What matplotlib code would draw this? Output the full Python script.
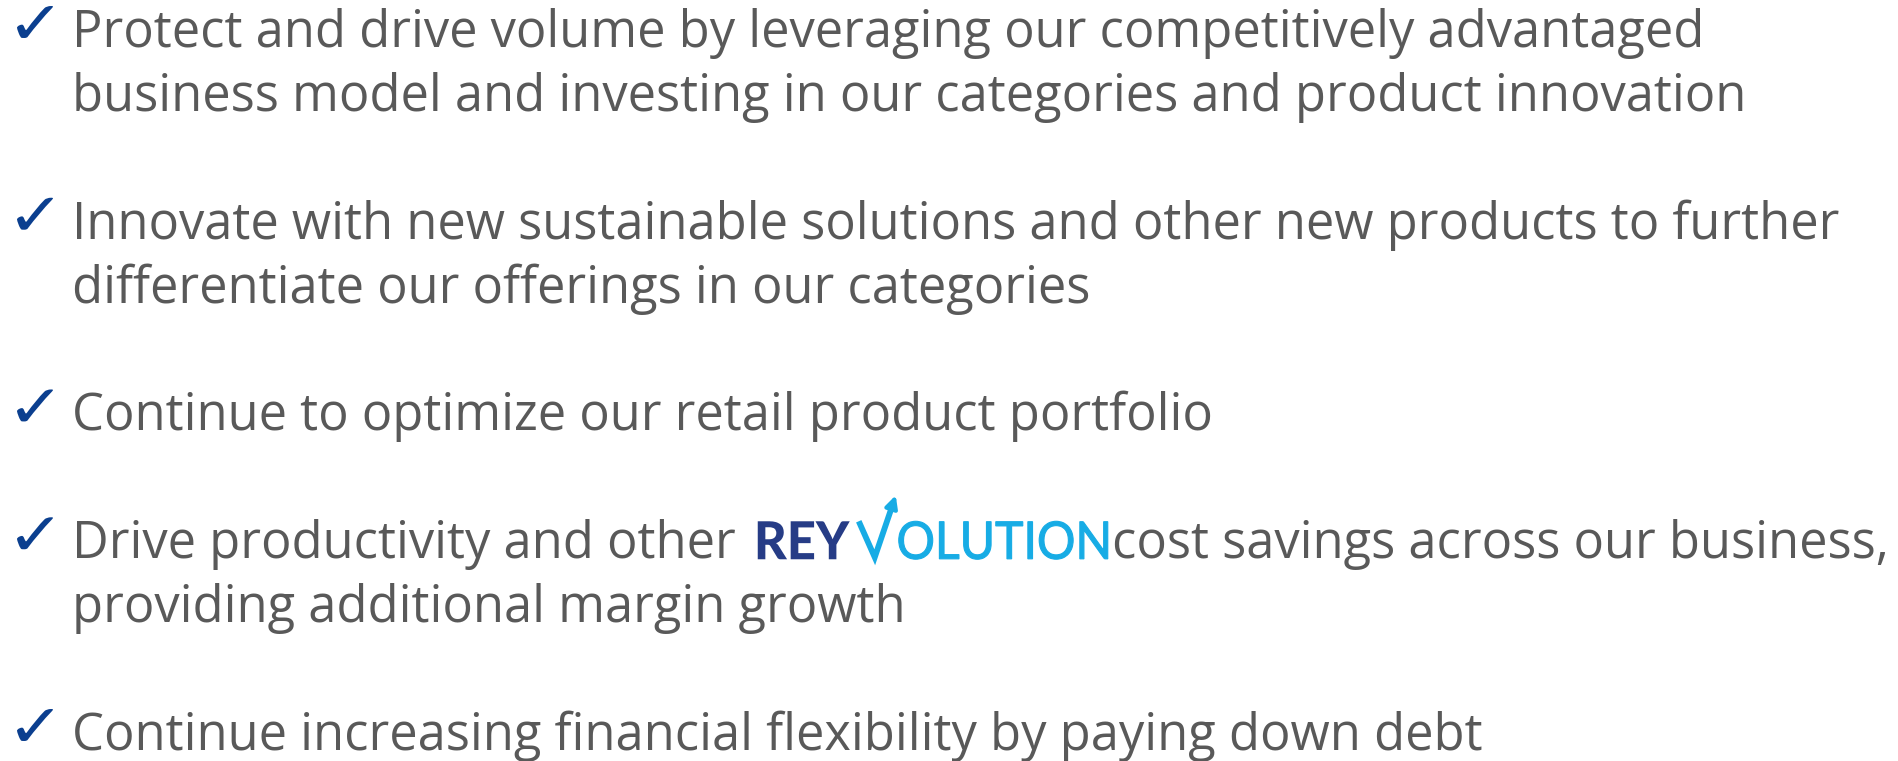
import matplotlib
matplotlib.use('Agg')
import matplotlib.pyplot as plt
from matplotlib.font_manager import FontProperties
from matplotlib.textpath import TextPath
from matplotlib.patches import PathPatch
from matplotlib.transforms import Affine2D

# slide text, one list of lines per bullet
bullets = [
    ["Protect and drive volume by leveraging our competitively advantaged",
     "business model and investing in our categories and product innovation"],
    ["Innovate with new sustainable solutions and other new products to further",
     "differentiate our offerings in our categories"],
    ["Continue to optimize our retail product portfolio"],
    ["Drive productivity and other {logo}cost savings across our business,",
     "providing additional margin growth"],
    ["Continue increasing financial flexibility by paying down debt"],
]
# logo word: navy part, then a drawn "V" with arrow, then the light blue rest
logo_parts = ["REY", "OLUTION"]
check = "\u2713"

W, H = 1898, 761
TEXT_COLOR = '#595959'
CHECK_COLOR = '#0b3f8f'
LOGO_NAVY = '#263c86'
LOGO_BLUE = '#17ace5'
FONT = 'Open Sans'

fig = plt.figure(figsize=(W / 100, H / 100), dpi=100)
ax = fig.add_axes([0, 0, 1, 1])
ax.set_xlim(0, W)
ax.set_ylim(H, 0)
ax.axis('off')
renderer = fig.canvas.get_renderer()


def path_box(s, x0, x1, ytop, ybot, color, family, weight='normal', edge=0):
    # draw a string as a filled path squeezed into a pixel box
    fp = FontProperties(family=family, weight=weight)
    tp = TextPath((0, 0), s, size=100, prop=fp)
    ext = tp.get_extents()
    sx = (x1 - x0) / ext.width
    sy = (ybot - ytop) / ext.height
    tr = Affine2D().translate(-ext.x0, -ext.y0).scale(sx, -sy).translate(x0, ybot)
    ax.add_patch(PathPatch(tr.transform_path(tp), fc=color,
                           ec=color if edge else 'none', lw=edge))


def text_width(t):
    return t.get_window_extent(renderer=renderer).width


def draw_logo(x0, y):
    path_box(logo_parts[0], x0, x0 + 92, y - 37, y + 1, LOGO_NAVY, 'Lato', 'black')
    vx = x0 + 101
    # V: short left arm, long steep right arm ending in an arrow
    ax.plot([vx, vx + 16, vx + 32], [y - 37, y - 1, y - 48], color=LOGO_BLUE,
            lw=4.2, solid_joinstyle='miter', solid_capstyle='butt')
    ax.annotate('', xy=(vx + 37, y - 63), xytext=(vx + 31, y - 45),
                arrowprops=dict(arrowstyle='-|>', color=LOGO_BLUE, lw=3,
                                mutation_scale=18, shrinkA=0, shrinkB=0))
    path_box(logo_parts[1], vx + 40, x0 + 350, y - 37, y + 1, LOGO_BLUE,
             'Lato', 'normal', edge=0.8)
    return x0 + 350


# fit the body font size to the width of the first line
probe = ax.text(0, 0, bullets[0][0], fontsize=30, family=FONT)
fs = 30 * 1632 / text_width(probe)
probe.remove()

x_text = 72
first_base = 47
step = (750 - 47) / 11

slot = 0
for lines in bullets:
    base = first_base + slot * step
    path_box(check, 17, 53, base - 41, base - 9, CHECK_COLOR, 'DejaVu Sans')
    for line in lines:
        y = first_base + slot * step
        if '{logo}' in line:
            pre, post = line.split('{logo}')
            t = ax.text(x_text, y, pre.rstrip(), fontsize=fs, family=FONT,
                        color=TEXT_COLOR, va='baseline')
            x_end = draw_logo(x_text + text_width(t) + 22, y)
            ax.text(x_end + 4, y, post, fontsize=fs, family=FONT,
                    color=TEXT_COLOR, va='baseline')
        else:
            ax.text(x_text, y, line, fontsize=fs, family=FONT,
                    color=TEXT_COLOR, va='baseline')
        slot += 1
    slot += 1

fig.savefig('out.png', dpi=100, facecolor='white')
